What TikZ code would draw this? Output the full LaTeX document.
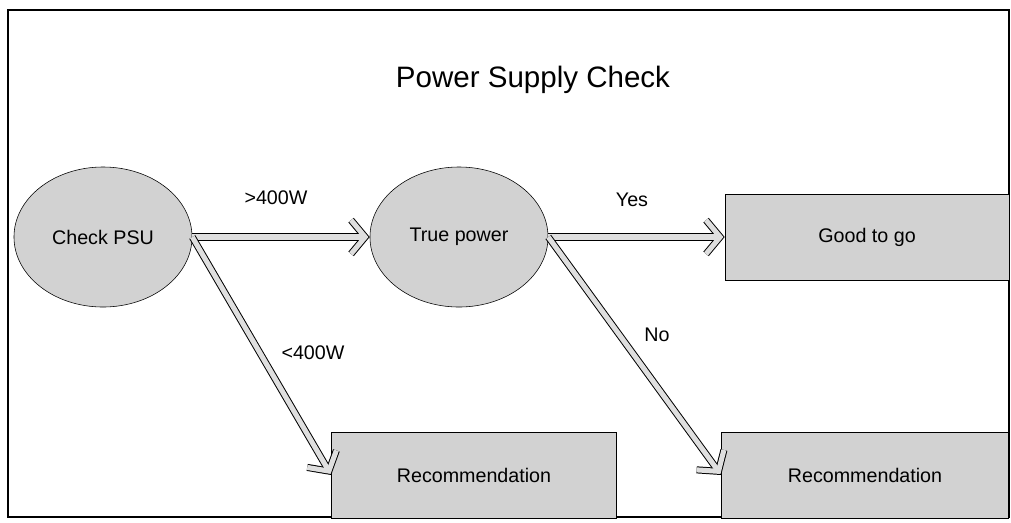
\documentclass[tikz,border=0pt]{standalone}
\usepackage{fontspec}
\setmainfont{Liberation Sans}
\usetikzlibrary{shapes.geometric,positioning,arrows.meta}

\begin{document}
\begin{tikzpicture}[x=0.025cm, y=-0.025cm,
        state/.style={ellipse, draw=black, fill=gray!35, minimum width=4.45cm, minimum height=3.5cm, font=\fontsize{14}{16}\selectfont},
        result/.style={rectangle, draw=black, fill=gray!35, minimum height=2.15cm, font=\fontsize{14}{16}\selectfont},
        flow/.style={draw=black, line width=5pt, -{Straight Barb[length=10pt, width=24pt, sharp]},
            postaction={draw=gray!25, line width=3.6pt, shorten >=0.9pt, -{Straight Barb[length=10pt, width=24pt, sharp]}}},
        lbl/.style={font=\fontsize{14}{16}\selectfont}
    ]
        \useasboundingbox (0,0) rectangle (1011,522);

        % Frame
        \draw[line width=0.8pt] (8,10) rectangle (1009,517);
        \node[font=\fontsize{21}{25}\selectfont] (title) at (533,80) {Power Supply Check};

        % States
        \node[state] (psu) at (103,237) {Check PSU};
        \node[state] (tp) at (459,237) {True power};

        % Results
        \node[result, minimum width=7.1cm] (good) at (867,237) {Good to go};
        \node[result, minimum width=7.125cm] (rec1) at (474,475) {Recommendation};
        \node[result, minimum width=7.175cm] (rec2) at (865,475) {Recommendation};

        % Connections
        \draw[flow] (psu.east) -- (tp.west);
        \draw[flow] (psu.east) -- (rec1.west);
        \draw[flow] (tp.east) -- (good.west);
        \draw[flow] (tp.east) -- (rec2.west);
        \node[lbl] (more) at (276,198) {>400W};
        \node[lbl] (less) at (313,353) {<400W};
        \node[lbl] (yes) at (632,200) {Yes};
        \node[lbl] (no) at (657,335) {No};

    \end{tikzpicture}
\end{document}
